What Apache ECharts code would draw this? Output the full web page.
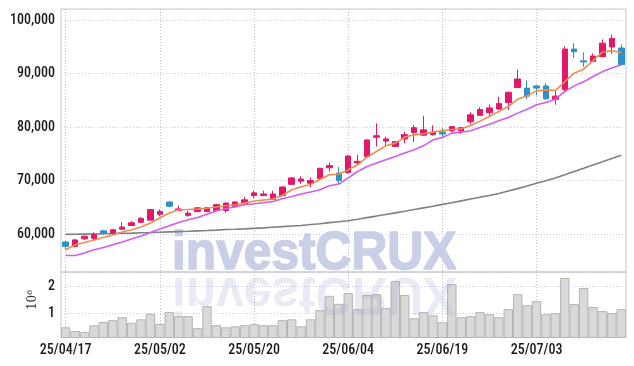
<!DOCTYPE html>
<html><head><meta charset="utf-8">
<script src="https://cdn.jsdelivr.net/npm/echarts@6/dist/echarts.min.js"></script>
<style>html,body{margin:0;padding:0;background:#fff}#c{width:634px;height:366px}</style>
</head><body><div id="c"></div>
<script>
const dates = [
  '25/04/17','25/04/18','25/04/21','25/04/22','25/04/23','25/04/24','25/04/25','25/04/28','25/04/29','25/04/30',
  '25/05/02','25/05/07','25/05/08','25/05/09','25/05/12','25/05/13','25/05/14','25/05/15','25/05/16','25/05/19',
  '25/05/20','25/05/21','25/05/22','25/05/23','25/05/26','25/05/27','25/05/28','25/05/29','25/05/30','25/06/02',
  '25/06/04','25/06/05','25/06/09','25/06/10','25/06/11','25/06/12','25/06/13','25/06/16','25/06/17','25/06/18',
  '25/06/19','25/06/20','25/06/23','25/06/24','25/06/25','25/06/26','25/06/27','25/06/30','25/07/01','25/07/02',
  '25/07/03','25/07/04','25/07/07','25/07/08','25/07/09','25/07/10','25/07/11','25/07/14','25/07/15','25/07/16'
];
const opens = [
  58500,57700,59100,59200,60600,60100,60900,61600,62200,62600,
  63700,66000,64400,63500,64200,64200,64400,64400,65100,65700,
  67200,67200,66500,67200,69300,69900,69500,70400,72400,71400,
  71500,73300,74500,78100,77400,76400,77800,79000,78500,78600,
  79100,79300,79300,81000,82200,82700,83400,84600,87400,87300,
  87700,87700,85200,87000,94600,92400,92300,93200,95000,94800
];
const closes = [
  57700,58900,59600,59900,60100,60800,61300,62100,62900,64600,
  64200,65200,64700,63900,64900,64900,65500,65800,66000,66400,
  67700,67500,67500,68800,70500,70300,70000,72300,72800,70000,
  74600,73600,77600,78400,77800,77300,78600,79900,79500,79000,
  78700,80100,79900,82300,83300,83600,84400,86500,89000,85800,
  87300,85300,85800,94600,94100,92200,93300,95700,96600,91700
];
const lows = [
  57100,57500,58900,58900,59900,60000,60800,61600,62100,62600,
  63300,65000,64400,63200,64200,64100,64400,64000,65000,65600,
  66700,67100,66500,67200,69200,69400,68700,70300,71700,69200,
  71300,73000,74400,76400,76400,76300,77000,77200,78400,78400,
  78200,79000,78700,80500,82100,82000,83200,83200,87300,85200,
  86000,85100,84200,86700,92900,91300,92200,93100,93700,91600
];
const highs = [
  58700,59100,59700,60300,60800,60900,62200,62400,63200,64600,
  64600,66100,65300,64300,65000,65100,65600,65900,66100,67000,
  68100,68100,68100,68900,70600,70800,70600,72400,73400,72500,
  74700,74800,77700,80700,78200,77300,79100,80400,82100,80300,
  79800,80200,80000,82800,83700,84200,85700,86700,90800,88700,
  87800,88200,86800,95100,95700,94000,93800,96400,97300,95500
];
const volumeM = [
  0.47,0.33,0.30,0.55,0.67,0.74,0.85,0.64,0.77,0.97,
  0.60,1.04,0.89,0.89,0.44,1.26,0.55,0.47,0.51,0.55,
  0.59,0.55,0.55,0.74,0.77,0.51,0.77,1.11,1.65,1.35,
  1.75,1.15,1.68,1.71,1.19,2.20,1.68,0.81,1.04,0.92,
  0.66,2.09,0.85,0.89,1.04,0.96,0.85,1.15,1.71,1.30,
  1.45,0.96,1.00,2.32,1.34,1.94,1.23,1.08,1.00,1.15
];
const maShort = [
  57070,58000,58430,58880,59370,59810,60370,60800,61310,62060,
  62990,63930,64540,64600,64670,64820,65050,65290,65480,65790,
  66170,66360,66540,67210,68280,68840,69270,70210,71080,71180,
  72020,72950,74390,75440,76500,77010,78130,78560,78750,79060,
  79360,79550,79680,80300,81120,82050,82910,83850,85230,85850,
  86780,86970,86840,88520,90090,90840,92450,94020,94320,93940
];
const maMid = [
  56000,56000,56450,57070,57500,58000,58500,59070,59630,60300,
  60940,61550,62170,62670,63100,63700,64360,64730,65100,65480,
  65660,65850,66090,66600,67030,67480,67850,68280,69030,69350,
  70520,71700,72630,73270,73890,74500,75140,75760,76500,77630,
  78060,78880,79060,79310,79920,80560,81180,81790,82620,83360,
  84170,84600,85230,86650,87720,88470,89460,90390,91080,91640
];
const maLong = [
  59930,59960,59990,60020,60060,60100,60140,60180,60230,60280,
  60340,60400,60460,60520,60590,60660,60740,60840,60900,60970,
  61070,61160,61270,61380,61500,61610,61780,61940,62130,62300,
  62500,62780,63070,63360,63660,63960,64260,64580,64900,65210,
  65550,65870,66210,66540,66900,67210,67600,68040,68500,68990,
  69490,69960,70480,71080,71700,72300,72910,73510,74130,74730
];
const priceTicks = [60000, 70000, 80000, 90000, 100000];
const volumeTicks = [1, 2];

const UP = '#e3186b', DOWN = '#2f91c6';
const labelFont = "'Liberation Sans Narrow','Roboto Condensed',Roboto,sans-serif";
function fmt(v){ return String(Math.round(v)).replace(/\B(?=(\d{3})+(?!\d))/g, ','); }

const candleData = dates.map((d, i) => [opens[i], closes[i], lows[i], highs[i]]);
const vSplit = { show: true, interval: 9, alignWithLabel: true, lineStyle: { color: '#bcc0cc', type: [1, 2], width: 1 } };
const hSplit = { show: true, lineStyle: { color: '#c6cbe0', type: [1, 2], width: 1 } };
const lbl = { fontSize: 14, fontWeight: 500, fontFamily: labelFont, color: '#1a1a1a', margin: 6 };

const chart = echarts.init(document.getElementById('c'), null, { renderer: 'canvas' });
chart.setOption({
  animation: false,
  backgroundColor: '#ffffff',
  grid: [
    { left: 61, right: 8, top: 9, height: 263, show: true, borderColor: '#c8c8c8', borderWidth: 1, backgroundColor: 'transparent' },
    { left: 61, right: 8, top: 272, height: 65.5, show: true, borderColor: '#c8c8c8', borderWidth: 1, backgroundColor: 'transparent' }
  ],
  xAxis: [
    { type: 'category', gridIndex: 0, data: dates, boundaryGap: true,
      axisLine: { show: false }, axisTick: { show: false, interval: 9, alignWithLabel: true },
      axisLabel: { show: false, interval: 9 }, splitLine: vSplit },
    { type: 'category', gridIndex: 1, data: dates, boundaryGap: true,
      axisLine: { show: false }, axisTick: { show: false, interval: 9, alignWithLabel: true },
      axisLabel: Object.assign({ show: true, interval: 9 }, lbl),
      splitLine: vSplit }
  ],
  yAxis: [
    { type: 'value', gridIndex: 0, min: 52900, max: 102100, splitNumber: 5,
      axisLine: { show: false }, axisTick: { show: false },
      axisLabel: Object.assign({ showMinLabel: false, showMaxLabel: false,
        formatter: v => priceTicks.indexOf(v) >= 0 ? fmt(v) : '' }, lbl),
      splitLine: hSplit },
    { type: 'value', gridIndex: 1, min: 0.09, max: 2.54, splitNumber: 2,
      axisLine: { show: false }, axisTick: { show: false },
      axisLabel: Object.assign({ showMinLabel: false, showMaxLabel: false,
        formatter: v => volumeTicks.indexOf(v) >= 0 ? String(v) : '' }, lbl),
      splitLine: hSplit }
  ],
  series: [
    { type: 'bar', xAxisIndex: 1, yAxisIndex: 1, data: volumeM, barWidth: '100%',
      itemStyle: { color: '#d9d9d9', borderColor: '#b5b5b5', borderWidth: 1 }, z: 2 },
    { type: 'line', data: maLong, showSymbol: false, symbol: 'none', smooth: false,
      lineStyle: { color: '#808080', width: 1.6 }, z: 3 },
    { type: 'candlestick', data: candleData, barWidth: 6,
      itemStyle: { color: UP, color0: DOWN, borderColor: UP, borderColor0: DOWN, borderWidth: 1 }, z: 4 },
    { type: 'line', data: maMid, showSymbol: false, symbol: 'none',
      lineStyle: { color: '#d25cf0', width: 1.6 }, z: 5 },
    { type: 'line', data: maShort, showSymbol: false, symbol: 'none',
      lineStyle: { color: '#f08c52', width: 1.6 }, z: 5 }
  ],
  graphic: [
    { type: 'text', x: 172, y: 254, scaleX: 0.92, z: 1, silent: true,
      style: { text: 'investCRUX', font: 'bold 54px "Liberation Sans", Arial, sans-serif',
        fill: '#c8cfe6', stroke: '#c8cfe6', lineWidth: 1.6,
        textVerticalAlign: 'middle', verticalAlign: 'middle', textAlign: 'left', align: 'left' } },
    { type: 'text', x: 172, y: 293, scaleX: 0.92, scaleY: -1, z: 100, silent: true,
      style: { text: 'investCRUX', font: 'bold 54px "Liberation Sans", Arial, sans-serif',
        fill: 'rgba(150,165,205,0.22)',
        textVerticalAlign: 'middle', verticalAlign: 'middle', textAlign: 'left', align: 'left' } },
    { type: 'text', x: 33, y: 300, rotation: Math.PI / 2, z: 100, silent: true,
      style: { text: '10⁶', font: '12px "DejaVu Serif", serif', fill: '#333',
        textVerticalAlign: 'middle', verticalAlign: 'middle', textAlign: 'center', align: 'center' } }
  ]
});
</script>
</body></html>
